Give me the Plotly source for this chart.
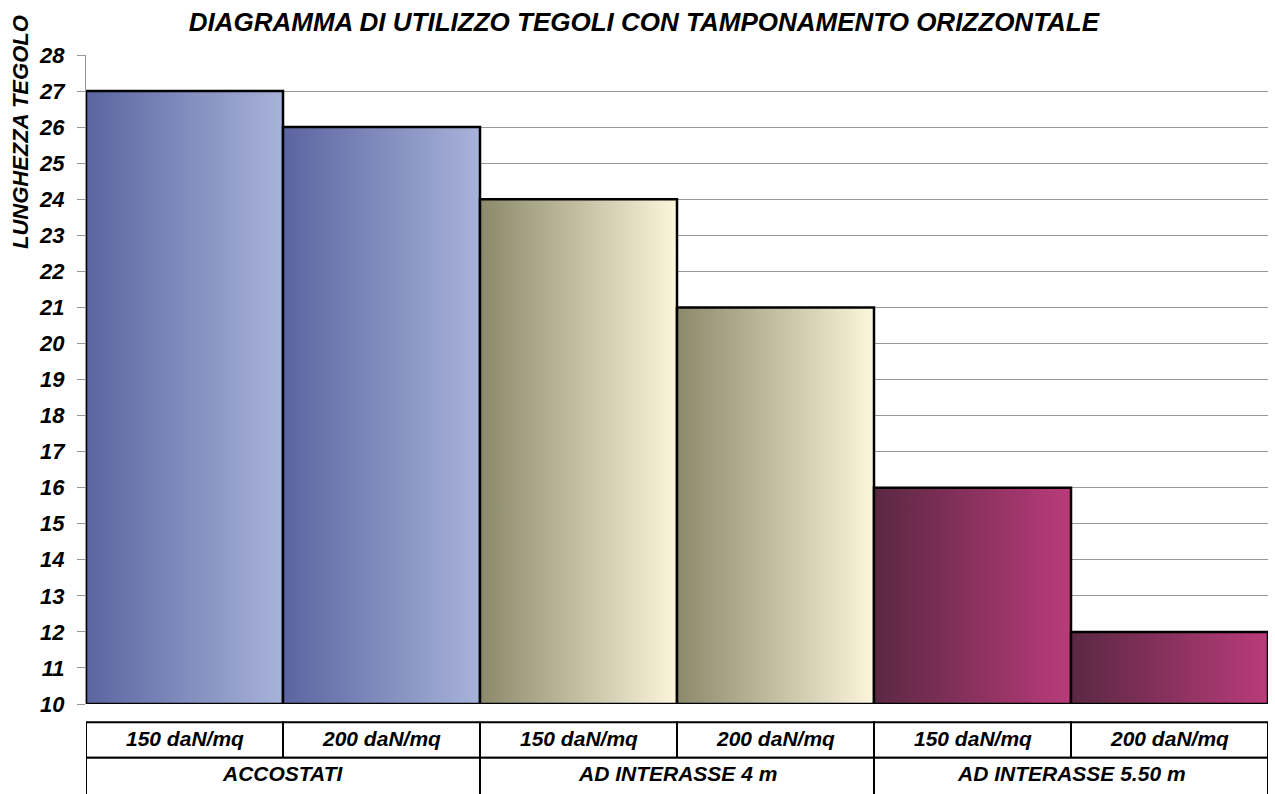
import plotly.graph_objects as go

# ---- data ----
loads = ["150 daN/mq", "200 daN/mq", "150 daN/mq", "200 daN/mq", "150 daN/mq", "200 daN/mq"]
groups = ["ACCOSTATI", "AD INTERASSE 4 m", "AD INTERASSE 5.50 m"]
lengths = [27, 26, 24, 21, 16, 12]
y_ticks = list(range(10, 29))
base_value = 10

# gradient colours per group (dark -> light)
group_colors = [
    ("#5b64a0", "#a8b3da"),
    ("#8c886a", "#fbf6dc"),
    ("#5a2842", "#b93b7a"),
]

font_family = "Liberation Sans, Arial, sans-serif"

def bfont(size):
    return dict(family=font_family, size=size, color="black", weight="bold", style="italic")

fig = go.Figure()

for i, v in enumerate(lengths):
    dark, light = group_colors[i // 2]
    fig.add_trace(go.Scatter(
        x=[i - 0.5, i - 0.5, i + 0.5, i + 0.5, i - 0.5],
        y=[base_value, v, v, base_value, base_value],
        mode="lines",
        fill="toself",
        fillgradient=dict(type="horizontal", colorscale=[[0, dark], [1, light]]),
        line=dict(color="black", width=2.5),
        showlegend=False,
        hoverinfo="skip",
    ))

# category table below the plot
row1_top, row1_bot, row2_bot = -0.028, -0.083, -0.15
for i, lab in enumerate(loads):
    fig.add_shape(type="rect", xref="x", yref="paper",
                  x0=i - 0.5, x1=i + 0.5, y0=row1_bot, y1=row1_top,
                  line=dict(color="black", width=2), fillcolor="white")
    fig.add_annotation(x=i, y=(row1_top + row1_bot) / 2 + 0.003, xref="x", yref="paper",
                       xanchor="center", yanchor="middle",
                       text=lab, showarrow=False, font=bfont(21))
for g, lab in enumerate(groups):
    fig.add_shape(type="rect", xref="x", yref="paper",
                  x0=2 * g - 0.5, x1=2 * g + 1.5, y0=row2_bot, y1=row1_bot,
                  line=dict(color="black", width=2), fillcolor="white")
    fig.add_annotation(x=2 * g + 0.5, y=-0.107, xref="x", yref="paper",
                       xanchor="center", yanchor="middle",
                       text=lab, showarrow=False, font=bfont(21))

# y axis title (top aligned, as in the reference)
fig.add_annotation(x=-0.056, y=0.881, xref="paper", yref="paper",
                   xanchor="center", yanchor="middle",
                   text="LUNGHEZZA TEGOLO", textangle=-90, showarrow=False,
                   font=bfont(22))

fig.update_layout(
    width=1275, height=794,
    margin=dict(l=86, r=7, t=55, b=90),
    paper_bgcolor="white", plot_bgcolor="white",
    title=dict(text="DIAGRAMMA DI UTILIZZO TEGOLI CON TAMPONAMENTO ORIZZONTALE",
               x=0.505, xanchor="center", y=0.972, yanchor="middle",
               font=bfont(26)),
    xaxis=dict(range=[-0.5, len(lengths) - 0.5], showgrid=False, zeroline=False,
               showticklabels=False, showline=False, fixedrange=True),
    yaxis=dict(range=[10, 28], tickvals=y_ticks, showgrid=True, gridcolor="#999999",
               gridwidth=1, zeroline=False, showline=True, linecolor="#999999",
               linewidth=1, ticks="outside", ticklen=8, tickcolor="#999999",
               ticklabelstandoff=8, tickfont=bfont(22)),
)

fig.write_html("out.html", config={"displayModeBar": False},
               post_script="document.body.style.margin='0';document.body.style.overflow='hidden';")
